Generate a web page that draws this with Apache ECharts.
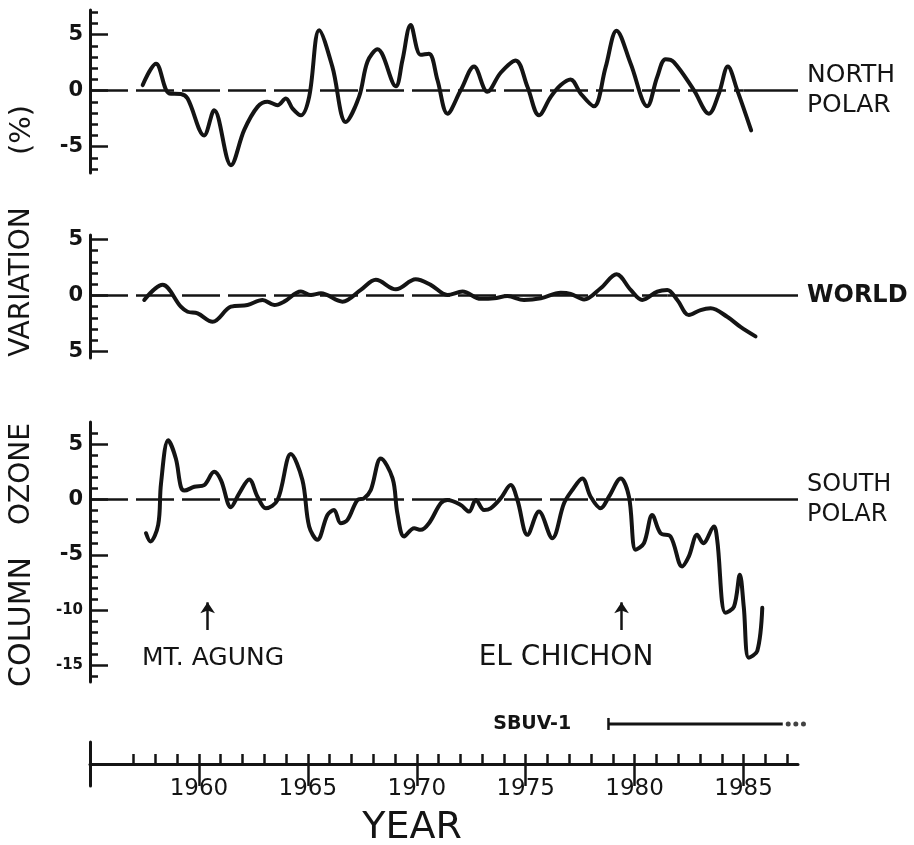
<!DOCTYPE html>
<html>
<head>
<meta charset="utf-8">
<script src="https://cdn.jsdelivr.net/npm/echarts@6/dist/echarts.min.js"></script>
<style>
html, body { margin: 0; padding: 0; background: #fff; }
#chart { width: 914px; height: 845px; }
</style>
</head>
<body>
<div id="chart"></div>
<script>
// years / values
var northYears = [1957.42, 1958.03, 1958.64, 1959.17, 1959.48, 1960.24, 1960.70, 1961.47, 1962.08, 1962.69,
    1963.15, 1963.61, 1963.99, 1964.30, 1964.68, 1965.06, 1965.52, 1966.13, 1966.74, 1967.35,
    1967.74, 1968.20, 1969.04, 1969.34, 1969.72, 1970.18, 1970.56, 1970.95, 1971.41, 1972.02,
    1972.63, 1973.24, 1973.85, 1974.54, 1975.08, 1975.61, 1976.15, 1976.61, 1977.06, 1977.52,
    1978.13, 1978.67, 1979.17, 1979.82, 1980.58, 1981.04, 1981.42, 1981.80, 1982.72, 1983.41,
    1983.87, 1984.28, 1984.71, 1985.35];
var northValues = [0.5, 2.4, -0.25, -0.3, -0.7, -4.0, -1.75, -6.65, -3.5, -1.45,
    -1.0, -1.3, -0.7, -1.6, -2.2, -0.55, 5.4, 2.1, -2.8, -0.55,
    2.6, 3.7, 0.4, 2.7, 5.85, 3.2, 3.3, 0.95, -2.05, 0.05,
    2.15, -0.1, 1.6, 2.7, 0.35, -2.2, -0.55, 0.5, 1.0, -0.25,
    -1.4, 2.1, 5.35, 2.4, -1.4, 1.25, 2.8, 2.55, 0.05, -2.05,
    -0.25, 2.15, 0.05, -3.55];

var worldYears = [1957.49, 1958.33, 1959.17, 1959.48, 1959.94, 1960.63, 1961.47, 1962.23, 1962.92, 1963.46,
    1963.91, 1964.68, 1965.14, 1965.60, 1966.59, 1967.43, 1968.12, 1969.04, 1969.95, 1970.64,
    1971.41, 1972.10, 1972.94, 1973.55, 1974.16, 1974.92, 1975.69, 1976.61, 1977.06, 1977.68,
    1978.44, 1979.17, 1979.82, 1980.35, 1981.04, 1981.50, 1981.96, 1982.49, 1983.03, 1983.49,
    1984.25, 1984.86, 1985.55];
var worldValues = [-0.4, 0.95, -1.0, -1.45, -1.6, -2.35, -1.0, -0.85, -0.4, -0.85,
    -0.55, 0.35, 0.05, 0.2, -0.55, 0.5, 1.4, 0.55, 1.45, 0.95,
    0.05, 0.35, -0.3, -0.25, -0.05, -0.4, -0.25, 0.25, 0.15, -0.35,
    0.65, 1.9, 0.5, -0.4, 0.35, 0.5, -0.4, -1.75, -1.3, -1.15,
    -1.9, -2.8, -3.65];

var southYears = [1957.57, 1957.77, 1958.13, 1958.26, 1958.59, 1958.94, 1959.17, 1959.33, 1959.79, 1960.24,
    1960.70, 1961.01, 1961.47, 1961.85, 1962.31, 1962.69, 1963.07, 1963.61, 1964.22, 1964.75,
    1965.06, 1965.44, 1965.90, 1966.20, 1966.51, 1966.82, 1967.28, 1967.58, 1967.89, 1968.35,
    1968.89, 1969.11, 1969.42, 1969.88, 1970.18, 1970.56, 1971.10, 1971.41, 1972.02, 1972.40,
    1972.71, 1973.09, 1973.39, 1973.85, 1974.31, 1974.62, 1975.08, 1975.61, 1976.22, 1976.76,
    1977.14, 1977.60, 1977.98, 1978.44, 1978.82, 1979.36, 1979.74, 1980.05, 1980.43, 1980.81,
    1981.19, 1981.65, 1982.18, 1982.49, 1982.87, 1983.15, 1983.64, 1983.79, 1984.17, 1984.56,
    1984.83, 1985.01, 1985.24, 1985.63, 1985.86];
var southValues = [-3.05, -3.8, -2.3, 1.45, 5.35, 3.7, 1.15, 0.8, 1.15, 1.3,
    2.5, 1.75, -0.7, 0.55, 1.8, 0.25, -0.8, -0.05, 4.1, 1.75,
    -2.45, -3.65, -1.4, -0.95, -2.15, -1.85, -0.05, 0.1, 0.85, 3.7,
    1.9, -1.25, -3.35, -2.6, -2.75, -2.15, -0.35, -0.05, -0.5, -1.1,
    -0.05, -0.95, -0.8, 0.1, 1.3, -0.05, -3.2, -1.1, -3.5, -0.35,
    0.85, 1.9, 0.25, -0.8, 0.25, 1.9, 0.25, -4.55, -3.95, -1.4,
    -3.05, -3.35, -6.05, -5.15, -3.2, -3.95, -2.45, -3.65, -10.25, -9.7,
    -6.8, -9.7, -14.3, -13.7, -9.8];

// SBUV-1 record bar and the volcano marks
var sbuvYears = [1978.8, 1986.8];
var sbuvDotYears = [1987.05, 1987.4, 1987.75];
var volcanoes = [
    { name: 'MT. AGUNG', year: 1960.4 },
    { name: 'EL CHICHON', year: 1979.4 }
];

// tick labels
var yearLabels = [1960, 1965, 1970, 1975, 1980, 1985];
var northTicks = [-5, 0, 5];
var worldTicks = [-5, 0, 5];
var southTicks = [-15, -10, -5, 0, 5];

var INK = '#141414';
var FONT = 'DejaVu Sans';
var X_MIN = 1955, X_MAX = 1987.5;

function pairs(xs, ys) {
    return xs.map(function (x, i) { return [x, ys[i]]; });
}
function steps(a, b) {
    var out = [];
    for (var v = a; v <= b; v++) out.push(v);
    return out;
}

function hiddenX(grid) {
    return { type: 'value', gridIndex: grid, min: X_MIN, max: X_MAX, show: false };
}
function minorY(grid, min, max, lo, hi) {
    return {
        type: 'value', gridIndex: grid, min: min, max: max, position: 'left',
        axisLine: { show: true, onZero: false, lineStyle: { color: INK, width: 3 } },
        axisTick: { show: true, inside: true, length: 8, customValues: steps(lo, hi), lineStyle: { color: INK, width: 2.5 } },
        axisLabel: { show: false },
        splitLine: { show: false }
    };
}
function majorY(grid, min, max, ticks, fmt) {
    return {
        type: 'value', gridIndex: grid, min: min, max: max, position: 'left',
        axisLine: { show: false, onZero: false },
        axisTick: { show: true, inside: true, length: 18, customValues: ticks, lineStyle: { color: INK, width: 2.5 } },
        axisLabel: {
            show: true, customValues: ticks, margin: 7, color: INK,
            fontFamily: FONT, fontSize: 21, fontWeight: 'bold',
            formatter: fmt,
            rich: { s: { fontFamily: FONT, fontSize: 15, fontWeight: 'bold', color: INK } }
        },
        splitLine: { show: false }
    };
}
// zero line: dashed up to solidFrom, solid afterwards, panel name at its end
function zeroLine(solidFrom, text, size, weight) {
    return {
        silent: true,
        symbol: 'none',
        animation: false,
        data: [
            [{ coord: [X_MIN, 0], lineStyle: { type: [38, 8] } }, { coord: [solidFrom, 0] }],
            [{
                coord: [solidFrom, 0], lineStyle: { type: 'solid' },
                label: {
                    show: true, position: 'end', distance: 9, formatter: text,
                    color: INK, fontFamily: FONT, fontSize: size, fontWeight: weight, lineHeight: 30
                }
            }, { coord: [X_MAX, 0] }]
        ],
        lineStyle: { color: INK, width: 2.5 },
        label: { show: false }
    };
}
function curve(name, xi, yi, data, solidFrom, label, size, weight) {
    return {
        name: name, type: 'line', xAxisIndex: xi, yAxisIndex: yi,
        data: data, showSymbol: false, smooth: 0.35,
        lineStyle: { color: INK, width: 4, cap: 'round', join: 'round' },
        z: 3,
        markLine: zeroLine(solidFrom, label, size, weight)
    };
}
function title(text, x, y, size, rotate) {
    return {
        type: 'text', x: x, y: y, rotation: rotate ? Math.PI / 2 : 0,
        style: {
            text: text, font: size + 'px "DejaVu Sans"', fill: INK,
            align: 'center', verticalAlign: 'middle', textAlign: 'center', textVerticalAlign: 'middle'
        }
    };
}

var option = {
    backgroundColor: '#fff',
    animation: false,
    grid: [
        { left: 90, width: 708, top: 10, height: 163 },
        { left: 90, width: 708, top: 235, height: 123 },
        { left: 90, width: 708, top: 422, height: 260 },
        { left: 90, width: 708, top: 742, height: 44 }
    ],
    xAxis: [
        hiddenX(0), hiddenX(1), hiddenX(2),
        {
            type: 'value', gridIndex: 3, min: X_MIN, max: X_MAX, position: 'bottom',
            axisLine: { show: true, onZero: true, lineStyle: { color: INK, width: 3 } },
            axisTick: { show: true, inside: true, length: 10, customValues: steps(1957, 1987), lineStyle: { color: INK, width: 2.5 } },
            axisLabel: { show: false },
            splitLine: { show: false }
        },
        {
            type: 'value', gridIndex: 3, min: X_MIN, max: X_MAX, position: 'bottom',
            axisLine: { show: false, onZero: true },
            axisTick: { show: true, inside: true, length: 21, customValues: yearLabels, lineStyle: { color: INK, width: 2.5 } },
            axisLabel: {
                show: true, customValues: yearLabels, margin: -8, color: INK, fontFamily: FONT, fontSize: 23,
                formatter: function (v) { return String(v); }
            },
            splitLine: { show: false }
        }
    ],
    yAxis: [
        minorY(0, -7.35, 7.2, -7, 7),
        majorY(0, -7.35, 7.2, northTicks, function (v) { return String(v); }),
        minorY(1, -5.58, 5.4, -5, 5),
        majorY(1, -5.58, 5.4, worldTicks, function (v) { return String(Math.abs(v)); }),
        minorY(2, -16.5, 7, -16, 6),
        majorY(2, -16.5, 7, southTicks, function (v) { return v <= -10 ? '{s|' + v + '}' : String(v); }),
        {
            type: 'value', gridIndex: 3, min: -1, max: 1, position: 'left',
            axisLine: { show: true, onZero: false, lineStyle: { color: INK, width: 3 } },
            axisTick: { show: false }, axisLabel: { show: false }, splitLine: { show: false }
        }
    ],
    series: [
        curve('NORTH POLAR', 0, 0, pairs(northYears, northValues), 1985.0, 'NORTH\nPOLAR', 25, 'normal'),
        curve('WORLD', 1, 2, pairs(worldYears, worldValues), 1981.5, 'WORLD', 24, 'bold'),
        curve('SOUTH POLAR', 2, 4, pairs(southYears, southValues), 1980.0, 'SOUTH\nPOLAR', 24, 'normal'),
        {
            name: 'volcanoes', type: 'line', xAxisIndex: 2, yAxisIndex: 4, data: [],
            markLine: {
                silent: true, animation: false,
                symbol: ['none', 'arrow'], symbolSize: 11,
                lineStyle: { color: INK, width: 2.5, type: 'solid' },
                label: { show: false },
                data: volcanoes.map(function (v) {
                    return [{ coord: [v.year, -11.8] }, { coord: [v.year, -9.3] }];
                })
            }
        },
        {
            name: 'SBUV-1', type: 'line', xAxisIndex: 3, yAxisIndex: 6, clip: false,
            data: sbuvYears.map(function (x, i) {
                return {
                    value: [x, 1.82],
                    symbol: i === 0 ? 'rect' : 'none',
                    symbolSize: [2.5, 12],
                    label: {
                        show: i === 0, position: 'left', distance: 36, formatter: 'SBUV-1',
                        color: INK, fontFamily: FONT, fontSize: 19, fontWeight: 'bold'
                    }
                };
            }),
            showSymbol: true,
            itemStyle: { color: INK },
            lineStyle: { color: INK, width: 3 }
        },
        {
            name: 'SBUV-1 dots', type: 'scatter', xAxisIndex: 3, yAxisIndex: 6, clip: false,
            data: sbuvDotYears.map(function (x) { return [x, 1.82]; }),
            symbolSize: 5, itemStyle: { color: INK }
        }
    ],
    graphic: [
        title('(%)', 22, 130, 29, true),
        title('VARIATION', 22, 282, 28, true),
        title('OZONE', 22, 474, 28, true),
        title('COLUMN', 22, 622, 30, true),
        title('MT. AGUNG', 213, 658, 25, false),
        title('EL CHICHON', 566, 658, 28, false),
        title('YEAR', 412, 828, 38, false)
    ]
};

var dom = document.getElementById('chart');
var myChart = echarts.init(dom);
myChart.setOption(option, true);
</script>
</body>
</html>
